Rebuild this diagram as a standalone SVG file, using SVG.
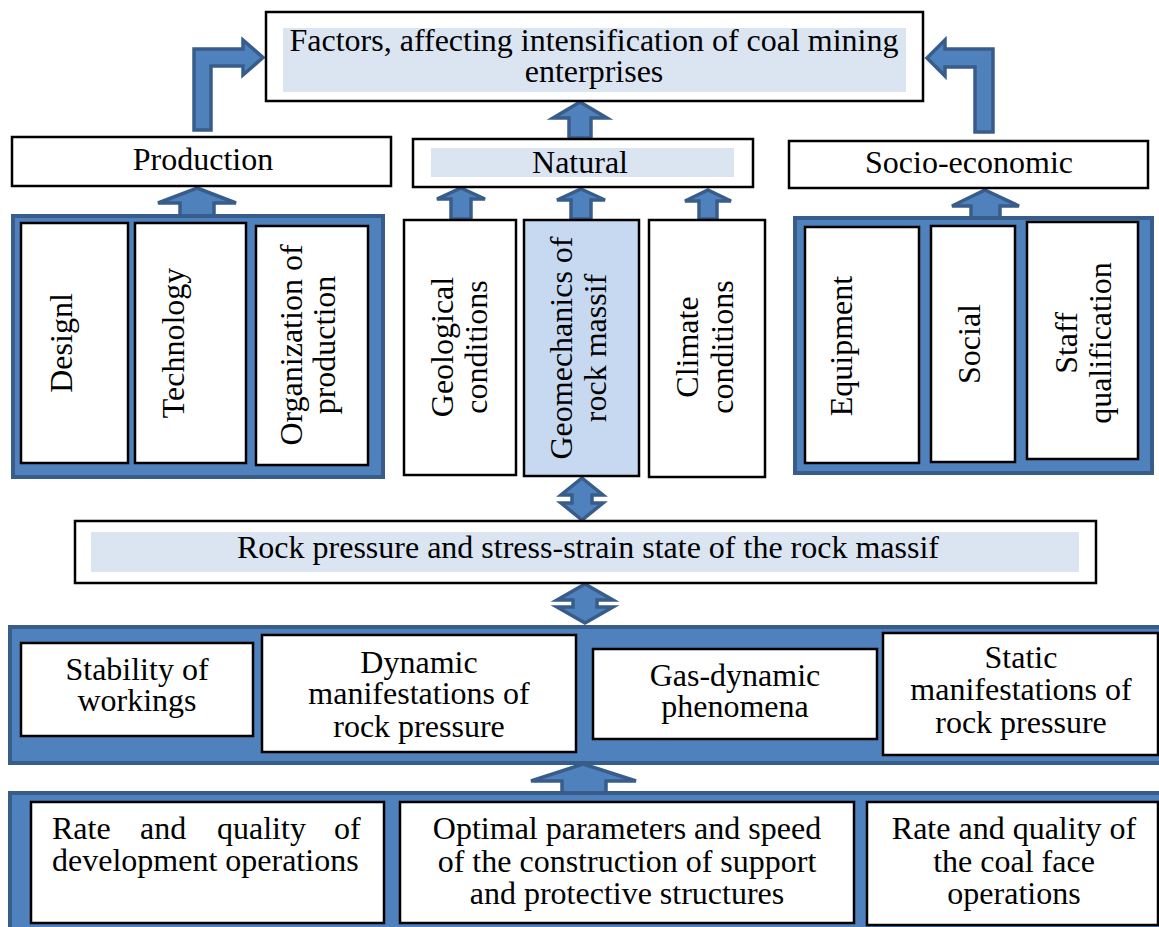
<svg xmlns="http://www.w3.org/2000/svg" width="1159" height="927" viewBox="0 0 1159 927">
<style>
.box{fill:#ffffff;stroke:#000000;stroke-width:2.5}
.hl{fill:#dbe5f1;stroke:none}
.blue{fill:#c6d9f1;stroke:#000000;stroke-width:2.5}
.panel{fill:#4f81bd;stroke:#385d8a;stroke-width:4}
.arr{fill:#4f81bd;stroke:#385d8a;stroke-width:3.5;stroke-linejoin:miter}
text{font-family:"Liberation Serif","Times New Roman",serif;font-size:32px;fill:#000000}
.m{text-anchor:middle}
</style>
<rect width="1159" height="927" fill="#ffffff"/>

<g id="connectors">
<polygon class="arr" points="194,130 194,49 243,49 243,40 263,57.5 243,75 243,66 211,66 211,130"/>
<polygon class="arr" points="975,132 975,67 945,67 945,76 927,58 945,40 945,49 993,49 993,132"/>
<polygon class="arr" points="580,102 607,118 591,118 591,138 569,138 569,118 553,118"/>
<polygon class="arr" points="197,188 236,203 214,203 214,216 180,216 180,203 158,203"/>
<polygon class="arr" points="461,188 485,199 471,199 471,219 451,219 451,199 437,199"/>
<polygon class="arr" points="581,189 605,200 591,200 591,219 571,219 571,200 557,200"/>
<polygon class="arr" points="708,190 731,201 717,201 717,219 699,219 699,201 685,201"/>
<polygon class="arr" points="985,190 1019,206 1000,206 1000,218 971,218 971,206 952,206"/>
<polygon class="arr" points="582,478 603,495 592,495 592,503 603,503 582,520 561,503 572,503 572,495 561,495"/>
<polygon class="arr" points="585,584 613,600 597,600 597,607 613,607 585,623 557,607 573,607 573,600 557,600"/>
<polygon class="arr" points="583,764 636,781 606,781 606,793 562,793 562,781 531,781"/>
</g>

<g id="top">
<rect class="box" x="266" y="12" width="657" height="89"/>
<rect class="hl" x="283" y="28" width="623" height="64"/>
<text class="m" x="594" y="51">Factors, affecting intensification of coal mining</text>
<text class="m" x="594" y="82">enterprises</text>
</g>

<g id="production">
<rect class="box" x="12" y="137" width="379" height="49"/>
<text class="m" x="203" y="170">Production</text>
</g>
<g id="natural">
<rect class="box" x="413" y="139" width="340" height="48"/>
<rect class="hl" x="431" y="148" width="303" height="29"/>
<text class="m" x="580" y="173">Natural</text>
</g>
<g id="socio">
<rect class="box" x="789" y="141" width="359" height="47"/>
<text class="m" x="969" y="173">Socio-economic</text>
</g>

<g id="production-panel">
<rect class="panel" x="13" y="216" width="370" height="261"/>
<g id="design">
<rect class="box" x="21" y="223" width="107" height="240"/>
<text class="m" transform="translate(72,343) rotate(-90)">Designl</text>
</g>
<g id="technology">
<rect class="box" x="135" y="223" width="111" height="240"/>
<text class="m" transform="translate(184,343) rotate(-90)">Technology</text>
</g>
<g id="organization">
<rect class="box" x="256" y="226" width="112" height="239"/>
<text class="m" transform="translate(302,345) rotate(-90)">Organization of</text>
<text class="m" transform="translate(335,345) rotate(-90)">production</text>
</g>
</g>

<g id="geological">
<rect class="box" x="404" y="220" width="112" height="255"/>
<text class="m" transform="translate(453,347) rotate(-90)">Geological</text>
<text class="m" transform="translate(487,347) rotate(-90)">conditions</text>
</g>
<g id="geomechanics">
<rect class="blue" x="524" y="220" width="115" height="256"/>
<text class="m" transform="translate(572,348) rotate(-90)">Geomechanics of</text>
<text class="m" transform="translate(606,348) rotate(-90)">rock massif</text>
</g>
<g id="climate">
<rect class="box" x="649" y="220" width="116" height="257"/>
<text class="m" transform="translate(698,347) rotate(-90)">Climate</text>
<text class="m" transform="translate(733,347) rotate(-90)">conditions</text>
</g>

<g id="socio-panel">
<rect class="panel" x="795" y="218" width="357" height="255"/>
<g id="equipment">
<rect class="box" x="805" y="227" width="114" height="236"/>
<text class="m" transform="translate(852,346) rotate(-90)">Equipment</text>
</g>
<g id="social">
<rect class="box" x="931" y="226" width="84" height="236"/>
<text class="m" transform="translate(980,344) rotate(-90)">Social</text>
</g>
<g id="staff">
<rect class="box" x="1027" y="222" width="111" height="237"/>
<text class="m" transform="translate(1077,343) rotate(-90)">Staff</text>
<text class="m" transform="translate(1111,343) rotate(-90)">qualification</text>
</g>
</g>

<g id="rock-pressure">
<rect class="box" x="75" y="521" width="1021" height="62"/>
<rect class="hl" x="91" y="532" width="988" height="40"/>
<text class="m" x="588" y="558">Rock pressure and stress-strain state of the rock massif</text>
</g>

<g id="manifestations-panel">
<rect class="panel" x="10" y="627" width="1160" height="136"/>
<g id="stability">
<rect class="box" x="21" y="643" width="232" height="93"/>
<text class="m" x="137" y="680">Stability of</text>
<text class="m" x="137" y="711">workings</text>
</g>
<g id="dynamic">
<rect class="box" x="262" y="635" width="314" height="117"/>
<text class="m" x="419" y="673">Dynamic</text>
<text class="m" x="419" y="704">manifestations of</text>
<text class="m" x="419" y="737">rock pressure</text>
</g>
<g id="gas">
<rect class="box" x="593" y="649" width="284" height="90"/>
<text class="m" x="735" y="686">Gas-dynamic</text>
<text class="m" x="735" y="717">phenomena</text>
</g>
<g id="static">
<rect class="box" x="883" y="633" width="275" height="122"/>
<text class="m" x="1021" y="668">Static</text>
<text class="m" x="1021" y="700">manifestations of</text>
<text class="m" x="1021" y="733">rock pressure</text>
</g>
</g>

<g id="operations-panel">
<rect class="panel" x="10" y="793" width="1160" height="140"/>
<g id="development">
<rect class="box" x="31" y="802" width="353" height="121"/>
<text y="839"><tspan x="52">Rate</tspan><tspan x="140">and</tspan><tspan x="217">quality</tspan><tspan x="334">of</tspan></text>
<text x="52" y="871">development operations</text>
</g>
<g id="optimal">
<rect class="box" x="400" y="802" width="454" height="121"/>
<text class="m" x="627" y="839">Optimal parameters and speed</text>
<text class="m" x="627" y="872">of the construction of support</text>
<text class="m" x="627" y="904">and protective structures</text>
</g>
<g id="coalface">
<rect class="box" x="867" y="802" width="291" height="123"/>
<text class="m" x="1014" y="839">Rate and quality of</text>
<text class="m" x="1014" y="872">the coal face</text>
<text class="m" x="1014" y="904">operations</text>
</g>
</g>
</svg>
